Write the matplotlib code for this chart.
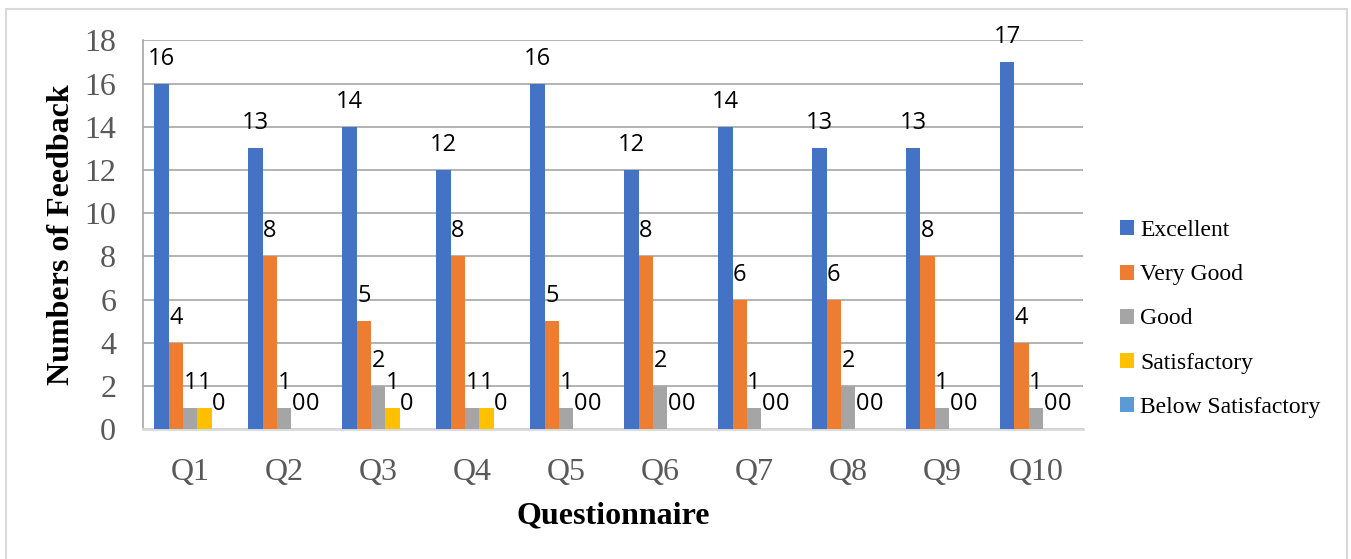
import numpy as np
import matplotlib.pyplot as plt
from matplotlib.patches import Rectangle

questions = ["Q1", "Q2", "Q3", "Q4", "Q5", "Q6", "Q7", "Q8", "Q9", "Q10"]
series = ["Excellent", "Very Good", "Good", "Satisfactory", "Below Satisfactory"]
excellent = [16, 13, 14, 12, 16, 12, 14, 13, 13, 17]
very_good = [4, 8, 5, 8, 5, 8, 6, 6, 8, 4]
good = [1, 1, 2, 1, 1, 2, 1, 2, 1, 1]
satisfactory = [1, 0, 1, 1, 0, 0, 0, 0, 0, 0]
below_satisfactory = [0, 0, 0, 0, 0, 0, 0, 0, 0, 0]
colors = ["#4472C4", "#ED7D31", "#A5A5A5", "#FFC000", "#5B9BD5"]

values = [excellent, very_good, good, satisfactory, below_satisfactory]

fig = plt.figure(figsize=(13.51, 5.59), dpi=100)
# light grey frame round the whole chart, like the excel chart area
fig.patches.append(Rectangle((6 / 1351, -0.01), 1341 / 1351, 1 - 9 / 559 + 0.01,
                             transform=fig.transFigure, fill=False,
                             edgecolor="#d9d9d9", linewidth=1.5))
ax = fig.add_axes([143.3 / 1351, 1 - 429.3 / 559, (1083 - 143.3) / 1351, (429.3 - 40.3) / 559])

x = np.arange(len(questions))
w = 0.153
for i, (name, vals) in enumerate(zip(series, values)):
    pos = x + (i - 2) * w
    ax.bar(pos, vals, width=w, color=colors[i], label=name, zorder=3)
    for px, v in zip(pos, vals):
        ax.annotate(str(v), (px, v), xytext=(0, 18), textcoords="offset points",
                    ha="center", va="center", fontsize=17, family="Open Sans",
                    color="black", zorder=4)

ax.set_xlim(-0.5, len(questions) - 0.5)
ax.set_ylim(0, 18)
ax.set_yticks(range(0, 19, 2))
ax.set_xticks(x)
ax.set_xticklabels(questions)
ax.yaxis.grid(True, color="#a6a6a6", linewidth=1.2, zorder=0)
ax.tick_params(axis="both", length=0, labelsize=23, labelcolor="#595959")
ax.tick_params(axis="y", pad=19.5)
ax.tick_params(axis="x", pad=21)
for lab in ax.get_xticklabels() + ax.get_yticklabels():
    lab.set_family("Liberation Serif")

for s in ["top", "right"]:
    ax.spines[s].set_visible(False)
ax.spines["left"].set_color("#a6a6a6")
ax.spines["left"].set_linewidth(1.2)
ax.spines["bottom"].set_color("#d9d9d9")
ax.spines["bottom"].set_linewidth(2)

ax.set_xlabel("Questionnaire", family="Liberation Serif", fontsize=23,
              fontweight="bold", labelpad=10)
ax.set_ylabel("Numbers of Feedback", family="Liberation Serif", fontsize=23,
              fontweight="bold", labelpad=6)

ax.legend(loc="center left", bbox_to_anchor=(1.017, 0.2836), frameon=False,
          prop={"family": "Liberation Serif", "size": 17},
          handlelength=0.6, handleheight=0.6, handletextpad=0.25,
          labelspacing=0.98)

fig.savefig("out.png", dpi=100)
